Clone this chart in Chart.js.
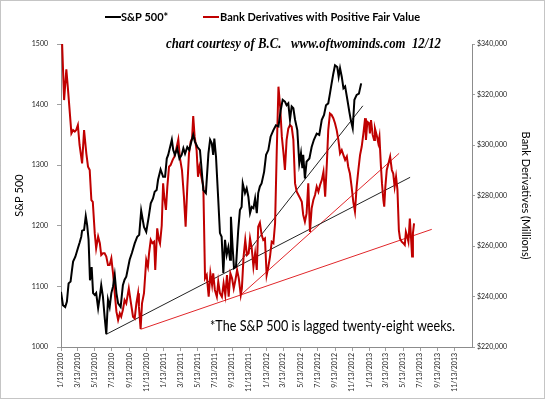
<!DOCTYPE html>
<html lang="en">
<head>
    <meta charset="UTF-8">
    <title>S&amp;P 500 vs Bank Derivatives</title>
    <script src="https://cdn.jsdelivr.net/npm/chart.js"></script>
    <style>
        html, body { margin: 0; padding: 0; background: #fff; }
        #wrap { width: 545px; height: 399px; position: relative; }
    </style>
</head>
<body>
    <div id="wrap"><canvas id="chart" width="545" height="399"></canvas></div>

    <script>
        // x positions are days after 1/13/2010
        const tickLabels = ['1/13/2010', '3/13/2010', '5/13/2010', '7/13/2010', '9/13/2010', '11/13/2010',
            '1/13/2011', '3/13/2011', '5/13/2011', '7/13/2011', '9/13/2011', '11/13/2011',
            '1/13/2012', '3/13/2012', '5/13/2012', '7/13/2012', '9/13/2012', '11/13/2012',
            '1/13/2013', '3/13/2013', '5/13/2013', '7/13/2013', '9/13/2013', '11/13/2013'];

        // S&P 500 (lagged 28 weeks)
        const spxDay = [0, 7, 15, 21, 27, 34, 39, 43, 51, 60, 66, 72, 75, 82, 88, 93, 98, 103, 109, 114,
            120, 125, 132, 138, 143, 149, 155, 161, 167, 173, 179, 185, 191, 197, 203, 212, 220, 226, 232, 238,
            244, 252, 262, 271, 278, 285, 295, 303, 312, 319, 327, 333, 340, 345, 354, 363, 370, 376, 381, 394,
            399, 405, 413, 421, 429, 435, 441, 449, 456, 465, 470, 476, 485, 494, 506, 515, 524, 530, 536, 541,
            545, 551, 559, 565, 571, 577, 583, 589, 595, 601, 604, 610, 615, 622, 630, 636, 642, 646, 654, 660,
            666, 672, 678, 684, 690, 696, 701, 707, 713, 722, 729, 737, 745, 755, 764, 773, 781, 788, 796, 802,
            808, 814, 820, 826, 832, 840, 847, 853, 858, 861, 867, 873, 883, 891, 899, 909, 918, 927, 935, 942,
            950, 956, 962, 968, 974, 982, 987, 992, 998, 1004, 1010, 1018, 1025, 1030, 1037, 1043, 1051, 1059, 1067];
        const spxValue = [1091, 1069, 1066, 1075, 1105, 1108, 1127, 1141, 1149, 1163, 1172, 1182, 1192, 1193, 1216, 1201, 1177, 1110, 1132, 1089,
            1086, 1089, 1064, 1083, 1102, 1083, 1050, 1021, 1078, 1066, 1089, 1100, 1119, 1089, 1072, 1066, 1102, 1111, 1116, 1130,
            1144, 1155, 1171, 1182, 1185, 1225, 1198, 1190, 1215, 1237, 1245, 1256, 1259, 1276, 1293, 1281, 1281, 1311, 1317, 1342,
            1325, 1317, 1328, 1311, 1317, 1328, 1319, 1330, 1325, 1342, 1350, 1339, 1330, 1325, 1259, 1254, 1319, 1342, 1336, 1317,
            1344, 1314, 1243, 1188, 1182, 1122, 1177, 1152, 1165, 1144, 1215, 1165, 1130, 1132, 1193, 1226, 1231, 1270, 1254, 1262,
            1248, 1221, 1231, 1229, 1245, 1221, 1254, 1265, 1270, 1289, 1317, 1325, 1347, 1358, 1366, 1364, 1391, 1408, 1405, 1399,
            1402, 1375, 1397, 1394, 1375, 1358, 1303, 1320, 1295, 1317, 1278, 1306, 1311, 1330, 1342, 1352, 1350, 1375, 1383, 1399,
            1402, 1418, 1435, 1451, 1465, 1462, 1446, 1460, 1446, 1427, 1430, 1408, 1388, 1375, 1361, 1408, 1416, 1418, 1435];

        // Bank derivatives with positive fair value ($ millions)
        const derivDay = [4, 11, 19, 25, 31, 37, 43, 49, 54, 60, 66, 75, 82, 90, 96, 102, 108, 113, 120, 125,
            132, 138, 143, 149, 155, 161, 167, 173, 179, 185, 191, 197, 203, 209, 214, 220, 226, 232, 241, 248,
            256, 262, 268, 274, 277, 283, 288, 295, 303, 309, 313, 319, 325, 331, 335, 342, 348, 352, 358, 363,
            367, 373, 378, 384, 390, 397, 403, 409, 417, 423, 430, 437, 443, 449, 455, 461, 466, 470, 475, 482,
            487, 492, 499, 506, 512, 518, 525, 531, 537, 541, 547, 554, 559, 565, 572, 578, 584, 590, 596, 602,
            608, 614, 620, 626, 632, 639, 643, 649, 655, 661, 667, 672, 678, 684, 690, 696, 701, 707, 713, 719,
            725, 731, 737, 743, 749, 755, 761, 767, 773, 779, 785, 791, 796, 802, 808, 814, 820, 826, 832, 838,
            844, 850, 856, 861, 867, 873, 879, 885, 891, 897, 903, 909, 915, 921, 927, 933, 939, 945, 950, 956,
            962, 968, 974, 980, 986, 992, 998, 1004, 1010, 1016, 1021, 1027, 1033, 1039, 1045, 1051, 1057, 1063, 1069, 1075,
            1081, 1084, 1089, 1095, 1098, 1102, 1108, 1113, 1116, 1122, 1128, 1132, 1137, 1141, 1146, 1149, 1153, 1158, 1164, 1170,
            1176, 1181, 1186, 1191, 1196, 1201, 1205, 1211, 1217, 1222, 1226, 1231, 1235, 1240, 1244, 1248, 1251, 1255];
        const derivValue = [340000, 317800, 330000, 321800, 313200, 304600, 305900, 305300, 305900, 307900, 300000, 292700, 305900, 296700, 291400, 290100, 278200, 277500, 265000, 259100,
            263700, 261100, 256400, 257100, 257100, 255800, 252500, 252500, 255100, 249200, 241300, 234000, 230700, 233300, 232000, 234700, 238600, 237300, 243200, 237900,
            232000, 231300, 237300, 241300, 236000, 227200, 237300, 241300, 254500, 251800, 257100, 262400, 261100, 261700, 250500, 267000, 262400, 261000, 268000, 284800,
            279500, 274300, 283500, 291400, 292100, 294100, 295400, 298000, 302200, 294700, 290100, 279500, 267600, 283500, 296700, 301300, 302600, 311500, 303300, 298000,
            287400, 291400, 287400, 283500, 247200, 248500, 239900, 249200, 244600, 249200, 242600, 239900, 245900, 241300, 239900, 245200, 240600, 248500, 239900, 249200,
            247200, 243200, 246500, 250500, 247200, 240600, 243200, 255800, 262400, 256400, 257100, 263000, 259100, 251800, 257100, 250500, 267600, 269200, 264500, 262400,
            263000, 248500, 251800, 255800, 261700, 261100, 269000, 298000, 323100, 315200, 303300, 296700, 290100, 302000, 306500, 307900, 307200, 302000, 284800, 281500,
            280200, 278900, 277500, 272300, 269600, 272900, 284800, 265600, 274900, 278200, 280200, 283500, 281500, 284200, 286100, 289400, 279500, 292700, 305900, 312500,
            311900, 310600, 308600, 305900, 302000, 296700, 298000, 296000, 294100, 295400, 291400, 288700, 283500, 277500, 273600, 283500, 290100, 296000, 299400, 304600,
            310600, 302000, 309200, 308600, 304600, 309900, 304000, 302000, 306600, 304000, 300700, 303300, 292100, 284800, 278200, 275600, 283500, 290100, 292700, 295400,
            290100, 288700, 283500, 287400, 282200, 266300, 263000, 261700, 261100, 260400, 265600, 263700, 261700, 270900, 263700, 255800, 265000, 269000];

        // hand-drawn trend lines: [startDay, endDay], [startValue, endValue]
        const spxTrendLongDay = [161, 1241];
        const spxTrendLongValue = [1021, 1280];
        const spxTrendShortDay = [622, 1073];
        const spxTrendShortValue = [1132, 1398];
        const derivTrendLongDay = [283, 1318];
        const derivTrendLongValue = [227000, 266600];
        const derivTrendShortDay = [639, 1202];
        const derivTrendShortValue = [240600, 296700];

        function dayOf(label) {
            const [m, d, y] = label.split('/').map(Number);
            return (Date.UTC(y, m - 1, d) - Date.UTC(2010, 0, 13)) / 86400000;
        }

        function pairs(xs, ys) {
            return xs.map((x, i) => ({ x: x, y: ys[i] }));
        }

        const redColor = '#c00000';

        // Legend, notes and outer frame drawn on top
        const decorations = {
            id: 'decorations',
            afterDraw(chart) {
                const ctx = chart.ctx;
                ctx.save();

                // dotted frame
                ctx.strokeStyle = '#8a8a8a';
                ctx.lineWidth = 1;
                ctx.setLineDash([1, 1]);
                ctx.strokeRect(0.5, 0.5, 544, 398);
                ctx.setLineDash([]);

                // legend
                ctx.lineWidth = 2;
                ctx.strokeStyle = '#000';
                ctx.beginPath(); ctx.moveTo(105, 17); ctx.lineTo(121, 17); ctx.stroke();
                ctx.strokeStyle = redColor;
                ctx.beginPath(); ctx.moveTo(203, 17); ctx.lineTo(219, 17); ctx.stroke();
                ctx.fillStyle = '#000';
                ctx.font = 'bold 11px Lato';
                ctx.textBaseline = 'middle';
                ctx.textAlign = 'left';
                ctx.fillText('S&P 500*', 121, 17, 48);
                ctx.fillText('Bank Derivatives with Positive Fair Value', 220, 17, 202);

                // credit line
                ctx.font = 'bold italic 14px "Liberation Serif"';
                ctx.textBaseline = 'alphabetic';
                ctx.fillText('chart courtesy of B.C.   www.oftwominds.com  12/12', 166, 48, 275);

                // footnote
                ctx.font = '15px Lato';
                ctx.fillText('*The S&P 500 is lagged twenty-eight weeks.', 210, 331, 245);

                ctx.restore();
            }
        };

        const axisGrid = {
            display: true,
            drawOnChartArea: false,
            drawTicks: true,
            color: '#a0a0a0'
        };

        const ctx = document.getElementById('chart').getContext('2d');
        Chart.defaults.font.family = 'Lato';
        Chart.defaults.color = '#222';

        new Chart(ctx, {
            type: 'line',
            data: {
                datasets: [
                    {
                        label: 'S&P 500*',
                        data: pairs(spxDay, spxValue),
                        yAxisID: 'y',
                        borderColor: '#000',
                        borderWidth: 2,
                        pointRadius: 0,
                        tension: 0
                    },
                    {
                        label: 'Bank Derivatives with Positive Fair Value',
                        data: pairs(derivDay, derivValue),
                        yAxisID: 'y2',
                        borderColor: redColor,
                        borderWidth: 2,
                        pointRadius: 0,
                        tension: 0
                    },
                    {
                        data: pairs(spxTrendLongDay, spxTrendLongValue),
                        yAxisID: 'y',
                        borderColor: '#222',
                        borderWidth: 1,
                        pointRadius: 0
                    },
                    {
                        data: pairs(spxTrendShortDay, spxTrendShortValue),
                        yAxisID: 'y',
                        borderColor: '#222',
                        borderWidth: 1,
                        pointRadius: 0
                    },
                    {
                        data: pairs(derivTrendLongDay, derivTrendLongValue),
                        yAxisID: 'y2',
                        borderColor: '#e0262a',
                        borderWidth: 1,
                        pointRadius: 0
                    },
                    {
                        data: pairs(derivTrendShortDay, derivTrendShortValue),
                        yAxisID: 'y2',
                        borderColor: '#e0262a',
                        borderWidth: 1,
                        pointRadius: 0
                    }
                ]
            },
            options: {
                responsive: false,
                animation: false,
                layout: { padding: { top: 44, left: 0, right: 0, bottom: 0 } },
                plugins: {
                    legend: { display: false },
                    tooltip: { enabled: false }
                },
                scales: {
                    x: {
                        type: 'linear',
                        min: 0,
                        max: 1461,
                        afterBuildTicks: scale => {
                            scale.ticks = tickLabels.map(l => ({ value: dayOf(l) }));
                        },
                        afterFit: scale => { scale.height = 52; },
                        grid: Object.assign({}, axisGrid, { tickLength: 4 }),
                        border: { display: true, color: '#8c8c8c' },
                        ticks: {
                            autoSkip: false,
                            minRotation: 90,
                            maxRotation: 90,
                            padding: 2,
                            font: { size: 7 },
                            callback: (v, i) => tickLabels[i]
                        }
                    },
                    y: {
                        position: 'left',
                        min: 1000,
                        max: 1500,
                        afterFit: scale => { scale.width = 61; },
                        grid: Object.assign({}, axisGrid, { tickLength: 4 }),
                        border: { display: true, color: '#8c8c8c' },
                        ticks: {
                            stepSize: 100,
                            padding: 9,
                            font: { size: 7 },
                            callback: v => String(v)
                        },
                        title: {
                            display: true,
                            text: 'S&P 500',
                            font: { size: 11 },
                            color: '#000',
                            padding: { top: 13 }
                        }
                    },
                    y2: {
                        position: 'right',
                        min: 220000,
                        max: 340000,
                        afterFit: scale => { scale.width = 73; },
                        grid: Object.assign({}, axisGrid, { tickLength: 3 }),
                        border: { display: true, color: '#8c8c8c' },
                        ticks: {
                            stepSize: 20000,
                            padding: 2,
                            font: { size: 7 },
                            callback: v => '$' + v.toLocaleString('en-US')
                        },
                        title: {
                            display: true,
                            text: 'Bank Derivatives (Millions)',
                            font: { size: 11 },
                            color: '#000',
                            padding: { top: 13 }
                        }
                    }
                }
            },
            plugins: [decorations]
        });
    </script>
</body>
</html>
